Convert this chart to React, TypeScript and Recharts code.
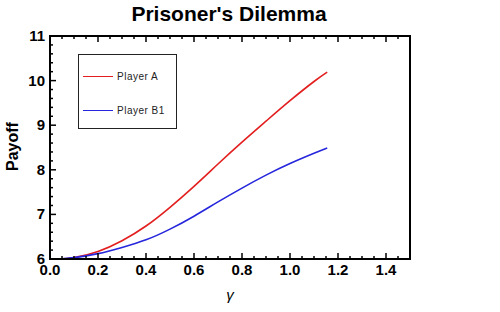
import { LineChart, Line, XAxis, YAxis, Legend } from "recharts";

const gammaValues = [0.04, 0.1, 0.2, 0.3, 0.4, 0.5, 0.6, 0.7, 0.8, 0.9, 1.0, 1.1, 1.155];
const playerA = [6.0, 6.03, 6.17, 6.41, 6.74, 7.16, 7.63, 8.13, 8.62, 9.09, 9.55, 9.98, 10.19];
const playerB1 = [6.0, 6.03, 6.12, 6.26, 6.43, 6.67, 6.96, 7.28, 7.59, 7.88, 8.14, 8.37, 8.49];

const xTicks = [
  0, 0.05, 0.1, 0.15, 0.2, 0.25, 0.3, 0.35, 0.4, 0.45, 0.5, 0.55, 0.6, 0.65, 0.7, 0.75,
  0.8, 0.85, 0.9, 0.95, 1.0, 1.05, 1.1, 1.15, 1.2, 1.25, 1.3, 1.35, 1.4, 1.45, 1.5,
];
const yTicks = [
  6, 6.2, 6.4, 6.6, 6.8, 7, 7.2, 7.4, 7.6, 7.8, 8, 8.2, 8.4, 8.6, 8.8, 9, 9.2, 9.4, 9.6,
  9.8, 10, 10.2, 10.4, 10.6, 10.8, 11,
];

const data = gammaValues.map((g, i) => ({ gamma: g, a: playerA[i], b1: playerB1[i] }));

const font = "'Liberation Sans', Arial, sans-serif";
const RED = "#e31e1e";
const BLUE = "#2626dc";

const isMajor = (v: number, step: number) => Math.abs(v / step - Math.round(v / step)) < 1e-6;

const BottomTick = ({ x, y, payload }: any) => {
  const major = isMajor(payload.value, 0.2);
  return (
    <g>
      <line x1={x} x2={x} y1={y} y2={y - (major ? 6 : 3)} stroke="#000" strokeWidth={1.5} />
      {major && (
        <text x={x} y={y + 16} textAnchor="middle" fontSize={15} fontWeight="bold" fontFamily={font} fill="#000">
          {payload.value.toFixed(1)}
        </text>
      )}
    </g>
  );
};

const TopTick = ({ x, y, payload }: any) => {
  const major = isMajor(payload.value, 0.2);
  return <line x1={x} x2={x} y1={y} y2={y + (major ? 6 : 3)} stroke="#000" strokeWidth={1.5} />;
};

const LeftTick = ({ x, y, payload }: any) => {
  const major = isMajor(payload.value, 1);
  return (
    <g>
      <line x1={x} x2={x + (major ? 6 : 3)} y1={y} y2={y} stroke="#000" strokeWidth={1.5} />
      {major && (
        <text x={x - 5} y={y + 5} textAnchor="end" fontSize={15} fontWeight="bold" fontFamily={font} fill="#000">
          {Math.round(payload.value)}
        </text>
      )}
    </g>
  );
};

const RightTick = ({ x, y, payload }: any) => {
  const major = isMajor(payload.value, 1);
  return <line x1={x} x2={x - (major ? 6 : 3)} y1={y} y2={y} stroke="#000" strokeWidth={1.5} />;
};

const renderLegend = ({ payload }: any) => (
  <div
    style={{
      boxSizing: "border-box",
      width: 99,
      height: 75,
      border: "1px solid #222",
      background: "#fff",
      position: "relative",
      fontFamily: font,
    }}
  >
    {(payload || []).map((entry: any, i: number) => (
      <div key={entry.value} style={{ position: "absolute", left: 4, top: 14 + i * 34, height: 14, display: "flex", alignItems: "center" }}>
        <div style={{ width: 30, height: 0, borderTop: `1.5px solid ${entry.color}` }} />
        <span style={{ marginLeft: 4, fontSize: 10, letterSpacing: 0.5, color: "#222" }}>{entry.value}</span>
      </div>
    ))}
  </div>
);

const frame = { stroke: "#000", strokeWidth: 2, strokeLinecap: "square" as const };

export default function App() {
  return (
    <div style={{ position: "absolute", left: 0, top: 0, width: 500, height: 312, background: "#fff" }}>
      <LineChart width={500} height={312} data={data} margin={{ top: 26, right: 80, bottom: 23, left: 10 }}>
        <XAxis
          dataKey="gamma"
          type="number"
          domain={[0, 1.5]}
          ticks={xTicks}
          interval={0}
          height={30}
          tickSize={0}
          tickMargin={0}
          tickLine={false}
          axisLine={frame}
          tick={BottomTick}
        />
        <XAxis
          xAxisId="top"
          orientation="top"
          dataKey="gamma"
          type="number"
          domain={[0, 1.5]}
          ticks={xTicks}
          interval={0}
          height={10}
          tickSize={0}
          tickMargin={0}
          tickLine={false}
          axisLine={frame}
          tick={TopTick}
        />
        <YAxis
          type="number"
          domain={[6, 11]}
          ticks={yTicks}
          interval={0}
          width={40}
          tickSize={0}
          tickMargin={0}
          tickLine={false}
          axisLine={frame}
          tick={LeftTick}
        />
        <YAxis
          yAxisId="right"
          orientation="right"
          type="number"
          domain={[6, 11]}
          ticks={yTicks}
          interval={0}
          width={10}
          tickSize={0}
          tickMargin={0}
          tickLine={false}
          axisLine={frame}
          tick={RightTick}
        />
        <Legend
          layout="vertical"
          align="center"
          verticalAlign="middle"
          content={renderLegend}
          wrapperStyle={{ left: 78, top: 54, width: 99, height: 75 }}
        />
        <Line type="natural" dataKey="a" name="Player A" stroke={RED} strokeWidth={1.6} dot={false} isAnimationActive={false} />
        <Line type="natural" dataKey="b1" name="Player B1" stroke={BLUE} strokeWidth={1.6} dot={false} isAnimationActive={false} />
      </LineChart>
      <svg width={500} height={312} style={{ position: "absolute", left: 0, top: 0, pointerEvents: "none" }}>
        <text x={229} y={21} textAnchor="middle" fontSize={21} fontWeight="bold" fontFamily={font} fill="#000">
          Prisoner's Dilemma
        </text>
        <text transform="translate(18,146.5) rotate(-90)" textAnchor="middle" fontSize={16} fontWeight="bold" fontFamily={font} fill="#000">
          Payoff
        </text>
        <text x={230} y={300} textAnchor="middle" fontSize={15} fontStyle="italic" fontFamily={font} fill="#000">
          γ
        </text>
      </svg>
    </div>
  );
}
